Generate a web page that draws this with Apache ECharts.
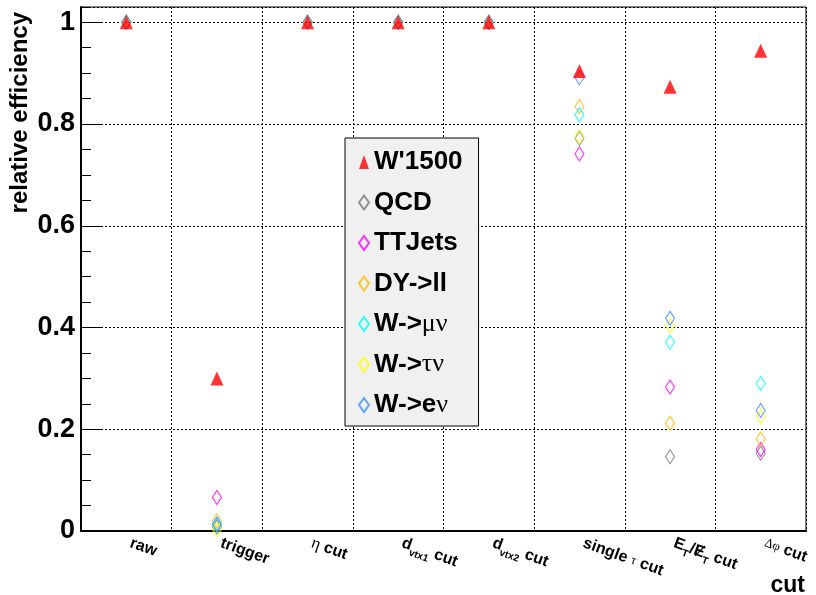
<!DOCTYPE html>
<html>
<head>
<meta charset="utf-8">
<script src="https://cdn.jsdelivr.net/npm/echarts@6/dist/echarts.min.js"></script>
<style>
  html, body { margin: 0; padding: 0; background: #fff; }
  #chart { width: 816px; height: 595px; }
</style>
</head>
<body>
<div id="chart"></div>
<script>
// Selection steps (tick labels, rich-text markup for Greek letters and subscripts)
const cutLabels = [
  'raw',
  'trigger',
  '{g|η} cut',
  'd{sub|vtx1} cut',
  'd{sub|vtx2} cut',
  'single {gs|τ} cut',
  'E{sub|T}/Ɇ{sub|T} cut',
  '{gs|Δφ} cut'
];

// Relative efficiency after each step
const wprime1500 = [1, 0.300, 1, 1, 1, 0.904, 0.873, 0.944];
const qcd        = [1, 0.008, 1, 1, 1, 0.772, 0.146, 0.153];
const ttjets     = [1, 0.066, 1, 1, 1, 0.741, 0.283, 0.160];
const dyll       = [1, 0.020, 1, 1, 1, 0.834, 0.212, 0.181];
const wmunu      = [1, 0.012, 1, 1, 1, 0.818, 0.371, 0.290];
const wtaunu     = [1, 0.003, 1, 1, 1, 0.775, 0.404, 0.225];
const wenu       = [1, 0.014, 1, 1, 1, 0.891, 0.418, 0.237];

const yTicks = [0, 0.2, 0.4, 0.6, 0.8, 1];

const legendNames = ["W'1500", 'QCD', 'TTJets', 'DY->ll', 'W->μν', 'W->τν', 'W->eν'];

const FONT = 'Liberation Sans, Arial, sans-serif';
const GREEK = 'Liberation Serif, DejaVu Serif, serif';

function diamondSeries(name, data, color) {
  return {
    name, type: 'scatter', data,
    symbol: 'diamond', symbolSize: [9, 14],
    itemStyle: { color: 'transparent', borderColor: color, borderWidth: 1.2 },
    z: 2
  };
}

const chart = echarts.init(document.getElementById('chart'), null, { renderer: 'canvas' });

const dotted = { color: '#000', width: 1, type: [2, 2] };

chart.setOption({
  animation: false,
  backgroundColor: '#fff',
  grid: {
    left: 81, right: 10, top: 7, bottom: 64,
    show: true, borderColor: '#000', borderWidth: 1, backgroundColor: 'transparent'
  },
  xAxis: {
    type: 'category',
    data: cutLabels,
    boundaryGap: true,
    axisLine: { lineStyle: { color: '#000', width: 2 } },
    axisTick: { inside: true, length: 12, lineStyle: { color: '#000', width: 1 } },
    splitLine: { show: true, lineStyle: dotted },
    axisLabel: {
      interval: 0,
      rotate: -20,
      margin: 10,
      color: '#000',
      fontFamily: FONT,
      fontWeight: 'bold',
      fontSize: 16,
      lineHeight: 24,
      formatter: v => ' ' + v,
      rich: {
        sub: { fontFamily: FONT, fontWeight: 'bold', fontSize: 10, lineHeight: 10, verticalAlign: 'bottom', color: '#000' },
        g: { fontFamily: GREEK, fontWeight: 'normal', fontSize: 17, color: '#000' },
        gs: { fontFamily: GREEK, fontWeight: 'normal', fontSize: 13, color: '#000' }
      }
    }
  },
  yAxis: [
    {
      type: 'value',
      min: 0, max: 1.03, interval: 0.2,
      axisLine: { show: true, lineStyle: { color: '#000', width: 2 } },
      axisTick: { show: true, inside: true, length: 20, lineStyle: { color: '#000', width: 1 } },
      splitLine: { show: true, lineStyle: dotted },
      axisLabel: {
        showMaxLabel: false,
        margin: 6,
        color: '#000',
        fontFamily: FONT,
        fontWeight: 'bold',
        fontSize: 27,
        formatter: v => (yTicks.some(t => Math.abs(t - v) < 1e-9) ? String(+v.toFixed(1)) : '')
      }
    },
    {
      // secondary ticks every 0.05
      type: 'value',
      min: 0, max: 1.03, interval: 0.05,
      position: 'left',
      axisLine: { show: false },
      axisTick: { show: true, inside: true, length: 10, lineStyle: { color: '#000', width: 1 } },
      splitLine: { show: false },
      axisLabel: { show: false }
    }
  ],
  legend: {
    orient: 'vertical',
    left: 345, top: 138,
    padding: [10, 16, 7, 13],
    backgroundColor: '#f0f0f0',
    borderColor: '#000', borderWidth: 1,
    itemWidth: 10, itemHeight: 14,
    itemGap: 12.5,
    itemTextGap: 16,
    data: legendNames,
    textStyle: {
      color: '#000', fontFamily: FONT, fontWeight: 'bold', fontSize: 26, lineHeight: 28,
      rich: {
        g: { fontFamily: GREEK, fontWeight: 'normal', fontSize: 26, color: '#000' }
      }
    },
    formatter: name => name.replace(/([μτν]+)/, '{g|$1}').replace(/e(ν)$/, 'e{g|$1}')
  },
  graphic: [
    {
      type: 'text', x: 20, y: 12, rotation: Math.PI / 2,
      style: {
        text: 'relative efficiency', fill: '#000',
        font: 'bold 24px ' + FONT, textAlign: 'right', textVerticalAlign: 'middle'
      }
    },
    {
      type: 'text', x: 805, y: 586,
      style: {
        text: 'cut', fill: '#000',
        font: 'bold 23px ' + FONT, textAlign: 'right', textVerticalAlign: 'middle'
      }
    }
  ],
  series: [
    diamondSeries('QCD', qcd, '#7a7a7a'),
    diamondSeries('TTJets', ttjets, '#ff00ff'),
    diamondSeries('DY->ll', dyll, '#ffbb00'),
    diamondSeries('W->μν', wmunu, '#00ffff'),
    diamondSeries('W->τν', wtaunu, '#ffff00'),
    diamondSeries('W->eν', wenu, '#3f8fff'),
    {
      name: "W'1500", type: 'scatter', data: wprime1500,
      symbol: 'triangle', symbolSize: [13, 14],
      itemStyle: { color: '#ff0000' },
      z: 5
    }
  ]
});
</script>
</body>
</html>
